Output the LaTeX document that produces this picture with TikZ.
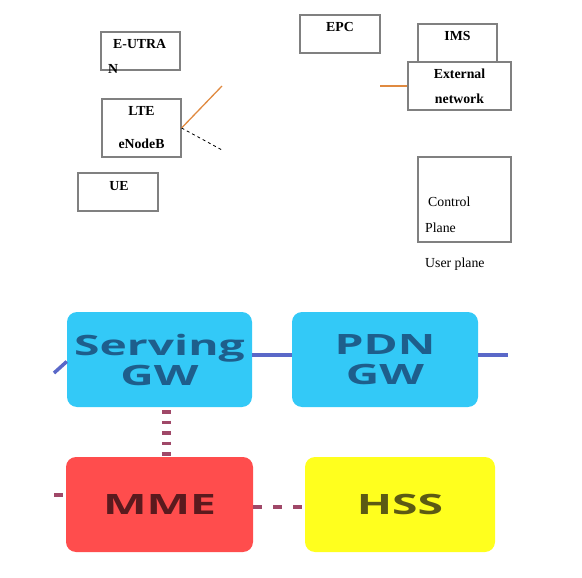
\documentclass[tikz,border=0pt]{standalone}
\usepackage{fontspec}
\setmainfont{Liberation Serif}
\newfontfamily\gwfont[FakeStretch=1.65]{Open Sans}
\definecolor{linkorange}{HTML}{E08A40}
\definecolor{gwcyan}{HTML}{33C9F7}
\definecolor{gwtext}{HTML}{1E5E8C}
\definecolor{mmered}{HTML}{FF4D4D}
\definecolor{mmetext}{HTML}{5A1A1E}
\definecolor{hssyellow}{HTML}{FFFF1E}
\definecolor{hsstext}{HTML}{5C5A14}
\definecolor{ulink}{HTML}{5A68C8}
\definecolor{clink}{HTML}{A04868}

\begin{document}
\begin{tikzpicture}[
	  x=1pt, y=-1pt,
	  netbox/.style={draw=gray, line width=1.2pt, inner sep=0pt},
	  boldtxt/.style={font=\fontsize{13.8}{16}\selectfont\bfseries, inner sep=0pt},
	  plaintxt/.style={font=\fontsize{13.8}{16}\selectfont, inner sep=0pt},
	  twoline/.style={align=center, font=\fontsize{13.8}{#1}\selectfont\bfseries},
	  gwbox/.style={rounded corners=10pt, minimum height=95pt, inner sep=0pt,
	    font=\gwfont\bfseries\fontsize{28}{30}\selectfont, align=center},
	  uline/.style={ulink, line width=3.5pt},
	  cline/.style={clink, line width=3.5pt, dash pattern=on 9pt off 11pt},
	]
	\useasboundingbox (0,0) rectangle (582,578);

	\node [netbox, minimum width=79pt, minimum height=38pt] (eutran) at (140.5,51) {};
	\node [boldtxt, anchor=base west] (eutrantop) at (113,49) {E-UTRA};
	\node [boldtxt, anchor=base west] (eutranend) at (108,74) {N};

	\node [netbox, twoline=33pt, minimum width=79pt, minimum height=58pt] (enb) at (141.5,128) {LTE\\eNodeB};

	\node [netbox, minimum width=80pt, minimum height=38pt] (ue) at (118,192) {};
	\node [boldtxt, anchor=base] (uetxt) at (119,190) {UE};

	\node [netbox, minimum width=80pt, minimum height=38pt] (epc) at (340,34) {};
	\node [boldtxt, anchor=base] (epctxt) at (340,32) {EPC};

	\node [netbox, minimum width=79pt, minimum height=38pt] (ims) at (457.5,43) {};
	\node [boldtxt, anchor=base] (imstxt) at (457.5,41) {IMS};

	\node [netbox, fill=white, twoline=25pt, minimum width=103pt, minimum height=48pt] (extnet) at (459.5,86) {External\\network};

	\node [netbox, minimum width=93pt, minimum height=85pt] (legend) at (464.5,199.5) {};
	\node [plaintxt, anchor=base west] (cplane) at (428,207) {Control};
	\node [plaintxt, anchor=base west] (cplaneend) at (425,233) {Plane};
	\node [plaintxt, anchor=base west] (uplane) at (425,267) {User plane};

	\coordinate (enbup) at (222,86);
	\coordinate (enbdown) at (222,150);
	\coordinate (epcout) at (380,86);
	\draw [linkorange, line width=1.3pt] (enb.east) -- (enbup);
	\draw [line width=0.8pt, dash pattern=on 3pt off 3pt] (enb.east) -- (enbdown);
	\draw [linkorange, line width=1.3pt] (epcout) -- (extnet.west);

	\node [gwbox, fill=gwcyan, text=gwtext, minimum width=185pt] (sgw) at (159.5,359.5) {Serving\\GW};
	\node [gwbox, fill=gwcyan, text=gwtext, minimum width=186pt] (pgw) at (385,359.5) {PDN\\GW};
	\node [gwbox, fill=mmered, text=mmetext, minimum width=187pt] (mme) at (159.5,504.5) {MME};
	\node [gwbox, fill=hssyellow, text=hsstext, minimum width=190pt] (hss) at (400,504.5) {HSS};

	\coordinate (sgwin) at (54,373);
	\coordinate (pgwout) at (508,355);
	\coordinate (mmein) at (54,495);
	\draw [uline] (sgwin) -- ([yshift=-2pt]sgw.west);
	\draw [uline] ([yshift=4.5pt]sgw.east) -- ([yshift=4.5pt]pgw.west);
	\draw [uline] ([yshift=4.5pt]pgw.east) -- (pgwout);
	\draw [clink, line width=9pt, dash pattern=on 3.5pt off 7pt] ([xshift=7pt,yshift=-3pt]sgw.south) -- ([xshift=7pt]sgw.south |- mme.north);
	\draw [cline] ([yshift=-2.5pt]mme.east) -- ([yshift=-2.5pt]mme.east -| hss.west);
	\draw [cline] (mmein) -- (mme.west |- mmein);
	\end{tikzpicture}
\end{document}
